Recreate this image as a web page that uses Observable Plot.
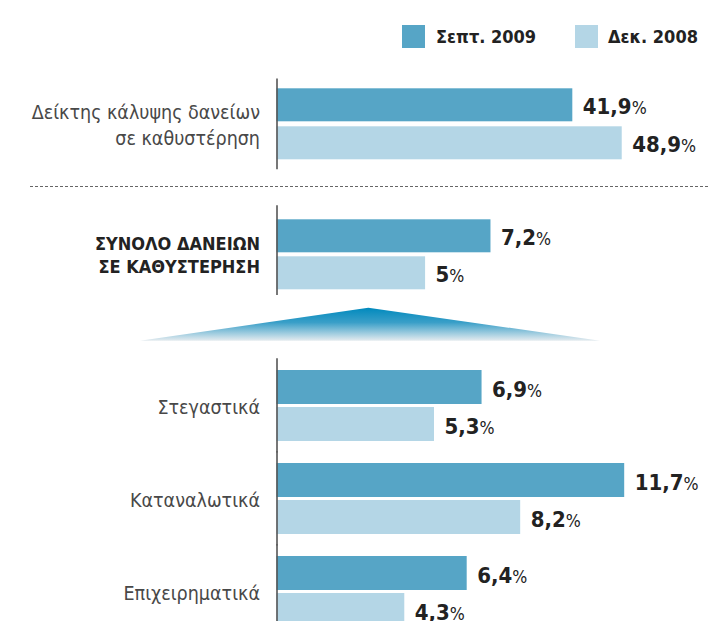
<!DOCTYPE html>
<html><head><meta charset="utf-8">
<script src="https://cdn.jsdelivr.net/npm/d3@7"></script>
<script src="https://cdn.jsdelivr.net/npm/@observablehq/plot@0.6"></script>
<style>
body{margin:0;background:#fff;}
#chart{position:relative;width:708px;height:621px;overflow:hidden;background:#fff;font-family:"DejaVu Sans Condensed","DejaVu Sans",sans-serif;font-stretch:condensed;}
.panel{position:absolute;left:0;}
.lg-sw{position:absolute;width:23px;height:23px;top:25px;}
.lg-tx{position:absolute;top:25px;height:23px;line-height:23px;font-size:18px;font-weight:bold;color:#222;white-space:nowrap;}
</style></head><body><div id="chart"></div>
<script>
const series = ["Σεπτ. 2009", "Δεκ. 2008"];
const colors = ["#56a5c6", "#b4d6e6"];

const coverCategories = ["Δείκτης κάλυψης δανείων\nσε καθυστέρηση"];
const coverSep2009 = [41.9];
const coverDec2008 = [48.9];

const totalCategories = ["ΣΥΝΟΛΟ ΔΑΝΕΙΩΝ\nΣΕ ΚΑΘΥΣΤΕΡΗΣΗ"];
const totalSep2009 = [7.2];
const totalDec2008 = [5];

const loanCategories = ["Στεγαστικά", "Καταναλωτικά", "Επιχειρηματικά"];
const loanSep2009 = [6.9, 11.7, 6.4];
const loanDec2008 = [5.3, 8.2, 4.3];

const FONT = '"DejaVu Sans Condensed","DejaVu Sans",sans-serif';
const chart = document.getElementById("chart");

function rows(cats, a, b) {
  return cats.flatMap((c, i) => [
    {category: c, series: series[0], value: a[i]},
    {category: c, series: series[1], value: b[i]}
  ]);
}
const fmt = v => String(v).replace(".", ",") + "%";

function panel(o) {
  const data = rows(o.cats, o.a, o.b);
  const svg = Plot.plot({
    width: 708, height: o.height,
    marginLeft: 276.5, marginRight: 0, marginTop: o.marginTop, marginBottom: o.marginBottom,
    x: {domain: [0, o.xMax], axis: null},
    y: {domain: series, axis: null, paddingInner: o.yPad, paddingOuter: 0},
    fy: {domain: o.cats, axis: null, paddingInner: o.fyPad, paddingOuter: 0},
    color: {domain: series, range: colors},
    style: {fontFamily: FONT, background: "transparent", overflow: "visible"},
    marks: [
      Plot.barX(data, {fy: "category", y: "series", x: "value", fill: "series"}),
      Plot.ruleX([0], {stroke: "#555", strokeWidth: 1.6, insetTop: -o.ruleTop, insetBottom: -o.ruleBottom}),
      Plot.text(data, {fy: "category", y: "series", x: "value", text: d => fmt(d.value),
        dx: 10, dy: 2, textAnchor: "start", fontSize: 22, fontWeight: "bold", fill: "#222"}),
      Plot.text(o.cats, {fy: d => d, text: d => d, frameAnchor: "left", dx: -17, textAnchor: "end",
        fontSize: o.labelSize, fontWeight: o.labelWeight, lineHeight: o.lineHeight, fill: o.labelColor})
    ]
  });
  svg.classList.add("panel");
  svg.style.top = o.top + "px";
  // smaller percent sign
  d3.select(svg).selectAll("text").each(function() {
    if (this.querySelector("tspan")) return;
    const t = this.textContent;
    if (/%$/.test(t)) {
      this.textContent = t.slice(0, -1);
      const ts = document.createElementNS("http://www.w3.org/2000/svg", "tspan");
      ts.setAttribute("font-size", "0.8em");
      ts.setAttribute("font-weight", "normal");
      ts.textContent = "%";
      this.appendChild(ts);
    }
  });
  chart.appendChild(svg);
}

// legend
series.forEach((s, i) => {
  const sw = document.createElement("div");
  sw.className = "lg-sw";
  sw.style.left = [402, 575][i] + "px";
  sw.style.background = colors[i];
  chart.appendChild(sw);
  const tx = document.createElement("div");
  tx.className = "lg-tx";
  tx.style.left = [436, 608][i] + "px";
  tx.textContent = s;
  chart.appendChild(tx);
});

panel({cats: coverCategories, a: coverSep2009, b: coverDec2008, top: 60, height: 130,
  marginTop: 26.7, marginBottom: 30, xMax: 61.12, yPad: 0.128, fyPad: 0,
  ruleTop: 8.4, ruleBottom: 9.3, labelSize: 19.5, labelWeight: "normal", lineHeight: 1.33, labelColor: "#484848"});

panel({cats: totalCategories, a: totalSep2009, b: totalDec2008, top: 195, height: 105,
  marginTop: 22.7, marginBottom: 10, xMax: 14.52, yPad: 0.105, fyPad: 0,
  ruleTop: 12.7, ruleBottom: 5, labelSize: 18, labelWeight: "bold", lineHeight: 1.26, labelColor: "#222"});

panel({cats: loanCategories, a: loanSep2009, b: loanDec2008, top: 350, height: 280,
  marginTop: 20, marginBottom: 3, xMax: 14.52, yPad: 0.089, fyPad: 0.2366,
  ruleTop: 11.7, ruleBottom: 11.5, labelSize: 19.5, labelWeight: "normal", lineHeight: 1.2, labelColor: "#484848"});

// decorations: dashed separator and gradient triangle
const NS = "http://www.w3.org/2000/svg";
const deco = document.createElementNS(NS, "svg");
deco.setAttribute("width", 708); deco.setAttribute("height", 621);
deco.style.position = "absolute"; deco.style.left = "0"; deco.style.top = "0"; deco.style.pointerEvents = "none";
deco.innerHTML = `
  <defs><linearGradient id="tg" x1="0" y1="0" x2="0" y2="1">
    <stop offset="0" stop-color="#0089bd"/>
    <stop offset="0.45" stop-color="#3a9fc8"/>
    <stop offset="1" stop-color="#e4ebef"/>
  </linearGradient></defs>
  <line x1="30" x2="708" y1="186.5" y2="186.5" stroke="#666" stroke-width="1" stroke-dasharray="3,2"/>
  <polygon points="140,340.7 368.3,307.7 600,340.7" fill="url(#tg)"/>`;
chart.appendChild(deco);
</script></body></html>
